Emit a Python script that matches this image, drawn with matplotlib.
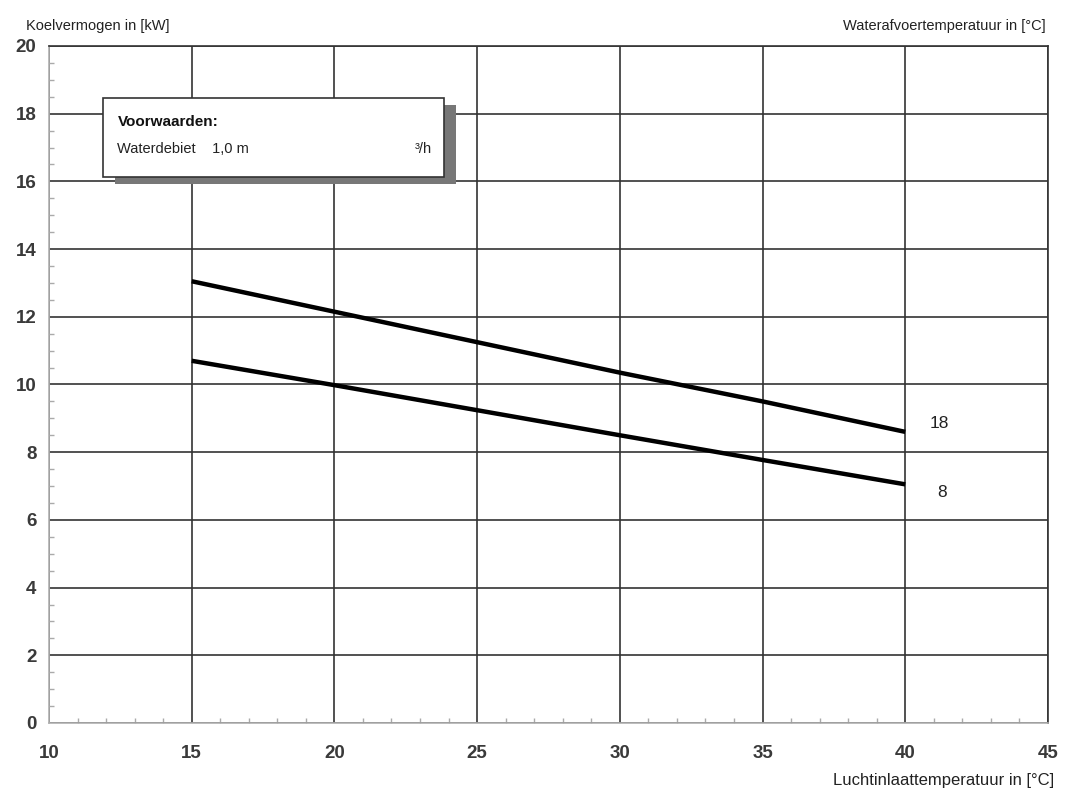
import matplotlib.pyplot as plt
from matplotlib.patches import Rectangle
from matplotlib.ticker import MultipleLocator

plt.rcParams['font.family'] = ['Liberation Sans', 'DejaVu Sans']

# luchtinlaattemperatuur [°C] en koelvermogen [kW]
temp = [15, 20, 25, 30, 35, 40]
kw_18 = [13.05, 12.15, 11.25, 10.35, 9.5, 8.6]
kw_8 = [10.7, 9.98, 9.24, 8.5, 7.77, 7.05]
curve_labels = ['18', '8']

fig = plt.figure(figsize=(10.65, 8.01), dpi=100)
ax = fig.add_axes([0.046, 0.0974, 0.938, 0.8452])

ax.set_xlim(10, 45)
ax.set_ylim(0, 20)
ax.xaxis.set_major_locator(MultipleLocator(5))
ax.yaxis.set_major_locator(MultipleLocator(2))
ax.xaxis.set_minor_locator(MultipleLocator(1))
ax.yaxis.set_minor_locator(MultipleLocator(0.5))
ax.grid(True, which='major', color='#333333', linewidth=1.2)
ax.set_axisbelow(True)

ax.tick_params(which='major', length=0, labelsize=13.5, labelcolor='#3a3a3a')
ax.tick_params(axis='x', which='major', pad=16)
ax.tick_params(axis='y', which='major', pad=9)
ax.tick_params(which='minor', direction='in', length=3.5, color='#aaaaaa', width=1)
for lab in ax.get_xticklabels() + ax.get_yticklabels():
    lab.set_fontweight('bold')

ax.spines['left'].set_color('#b0b0b0')
ax.spines['bottom'].set_color('#b0b0b0')
ax.spines['top'].set_color('#333333')
ax.spines['right'].set_color('#333333')
for s in ax.spines.values():
    s.set_linewidth(1.2)

ax.plot(temp, kw_18, color='black', linewidth=3.2, solid_capstyle='butt', zorder=3)
ax.plot(temp, kw_8, color='black', linewidth=3.2, solid_capstyle='butt', zorder=3)
ax.text(41.2, kw_18[-1] + 0.25, curve_labels[0], fontsize=12.5, color='#222222', ha='center', va='center')
ax.text(41.3, kw_8[-1] - 0.25, curve_labels[1], fontsize=12.5, color='#222222', ha='center', va='center')

# voorwaarden-kader met schaduw
ax.add_patch(Rectangle((12.3, 15.93), 11.97, 2.33, facecolor='#777777', edgecolor='none', zorder=4))
ax.add_patch(Rectangle((11.89, 16.13), 11.95, 2.33, facecolor='white', edgecolor='#333333', linewidth=1.2, zorder=5))
ax.text(12.4, 17.75, 'Voorwaarden:', fontsize=11, fontweight='bold', color='#111111', va='center', zorder=6)
ax.text(12.4, 16.95, 'Waterdebiet    1,0 m', fontsize=10.5, color='#222222', va='center', zorder=6)
ax.text(23.4, 16.95, '³/h', fontsize=10.5, color='#222222', va='center', ha='right', zorder=6)

fig.text(0.024, 0.967, 'Koelvermogen in [kW]', fontsize=10.5, color='#222222', va='center')
fig.text(0.982, 0.967, 'Waterafvoertemperatuur in [°C]', fontsize=10.5, color='#222222', va='center', ha='right')
fig.text(0.99, 0.026, 'Luchtinlaattemperatuur in [°C]', fontsize=12, color='#222222', va='center', ha='right')

fig.savefig('out.png', dpi=100)
